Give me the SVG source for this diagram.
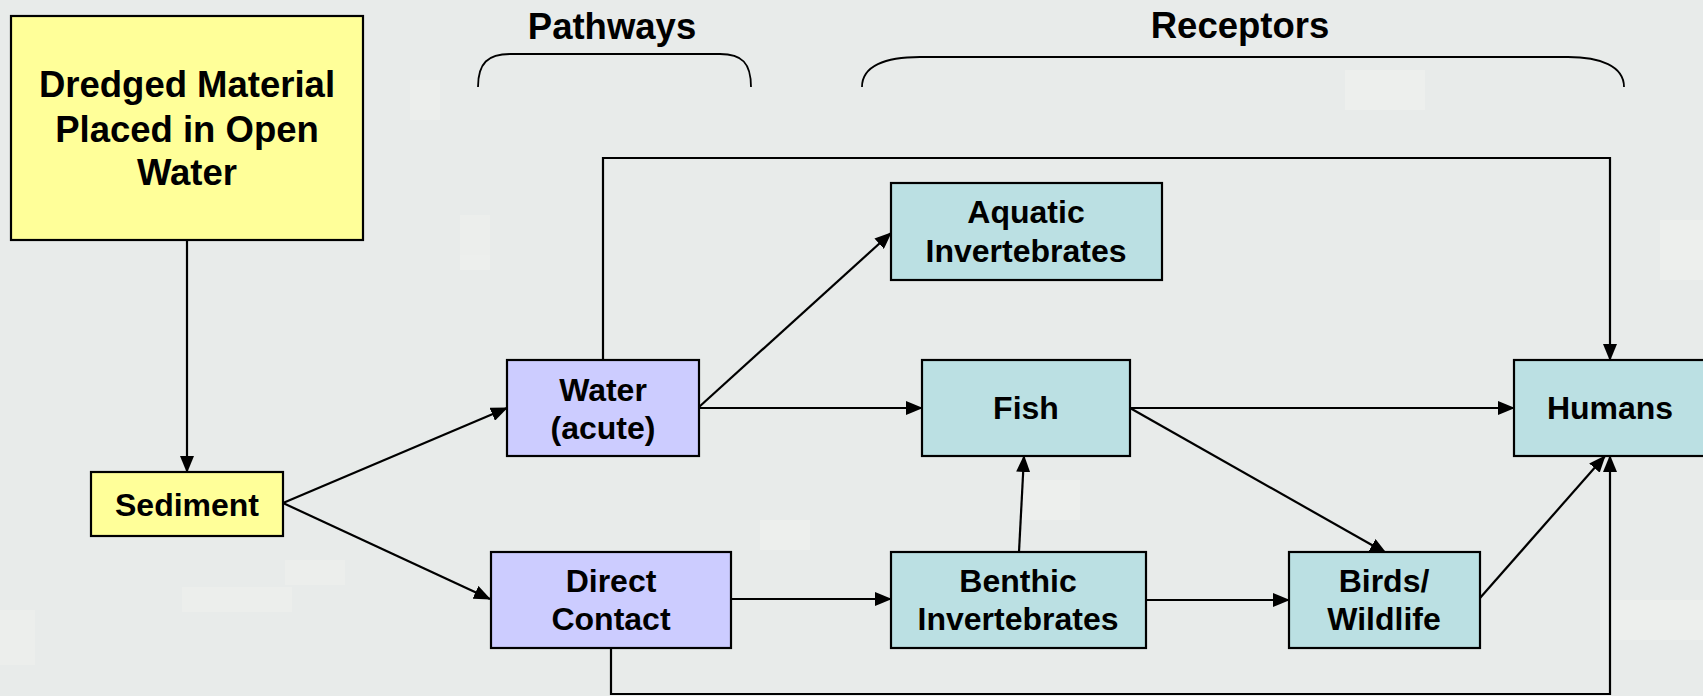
<svg xmlns="http://www.w3.org/2000/svg" width="1703" height="696" viewBox="0 0 1703 696">
<style>
.box{stroke:#000;stroke-width:2.2}
.y{fill:#ffff99}
.p{fill:#ccccff}
.t{fill:#bbe0e3}
text{font-family:"Liberation Sans",Arial,sans-serif;font-weight:bold;fill:#000;text-anchor:middle}
.big{font-size:36.5px}
.n{font-size:32px}
.c{fill:none;stroke:#000;stroke-width:2.2}
.br{fill:none;stroke:#000;stroke-width:1.8}
.bg2{fill:#f1f2ee}
</style>
<defs>
<marker id="ah" markerUnits="userSpaceOnUse" markerWidth="17" markerHeight="14" refX="16" refY="7" orient="auto">
<path d="M0,0 L17,7 L0,14 Z" fill="#000"/>
</marker>
</defs>
<rect width="1703" height="696" fill="#e8ebea"/>
<g id="background" opacity="0.55">
<rect class="bg2" x="410" y="80" width="30" height="40"/>
<rect class="bg2" x="460" y="215" width="30" height="55"/>
<rect class="bg2" x="182" y="587" width="110" height="25"/>
<rect class="bg2" x="285" y="560" width="60" height="25"/>
<rect class="bg2" x="0" y="610" width="35" height="55"/>
<rect class="bg2" x="1345" y="70" width="80" height="40"/>
<rect class="bg2" x="1660" y="220" width="43" height="60"/>
<rect class="bg2" x="1600" y="600" width="103" height="40"/>
<rect class="bg2" x="1020" y="480" width="60" height="40"/>
<rect class="bg2" x="760" y="520" width="50" height="30"/>
</g>
<g id="connectors">
<path class="c" d="M187,240 L187,472" marker-end="url(#ah)"/>
<path class="c" d="M283,503 L507,408" marker-end="url(#ah)"/>
<path class="c" d="M283,503 L490,599" marker-end="url(#ah)"/>
<path class="c" d="M699,407 L891,233" marker-end="url(#ah)"/>
<path class="c" d="M699,408 L922,408" marker-end="url(#ah)"/>
<path class="c" d="M603,360 L603,158 L1610,158 L1610,360" marker-end="url(#ah)"/>
<path class="c" d="M1130,408 L1514,408" marker-end="url(#ah)"/>
<path class="c" d="M1130,408 L1386,553" marker-end="url(#ah)"/>
<path class="c" d="M1019,552 L1024,456" marker-end="url(#ah)"/>
<path class="c" d="M731,599 L891,599" marker-end="url(#ah)"/>
<path class="c" d="M1146,600 L1289,600" marker-end="url(#ah)"/>
<path class="c" d="M1480,598 L1605,456" marker-end="url(#ah)"/>
<path class="c" d="M611,648 L611,694 L1610,694 L1610,456" marker-end="url(#ah)"/>
</g>
<g id="pathways-header">
<text class="big" x="612" y="39">Pathways</text>
<path class="br" d="M478,87 C478,63 488,54 510,54 L720,54 C742,54 751,63 751,87"/>
</g>
<g id="receptors-header">
<text class="big" x="1240" y="38">Receptors</text>
<path class="br" d="M862,87 C862,66 885,57 920,57 L1568,57 C1600,57 1624,66 1624,87"/>
</g>
<g id="dredged">
<rect class="box y" x="11" y="16" width="352" height="224"/>
<text class="big" x="187" y="97">Dredged Material</text>
<text class="big" x="187" y="142">Placed in Open</text>
<text class="big" x="187" y="185">Water</text>
</g>
<g id="sediment">
<rect class="box y" x="91" y="472" width="192" height="64"/>
<text class="n" x="187" y="516">Sediment</text>
</g>
<g id="water">
<rect class="box p" x="507" y="360" width="192" height="96"/>
<text class="n" x="603" y="401">Water</text>
<text class="n" x="603" y="439">(acute)</text>
</g>
<g id="direct-contact">
<rect class="box p" x="491" y="552" width="240" height="96"/>
<text class="n" x="611" y="592">Direct</text>
<text class="n" x="611" y="630">Contact</text>
</g>
<g id="aquatic-invertebrates">
<rect class="box t" x="891" y="183" width="271" height="97"/>
<text class="n" x="1026" y="223">Aquatic</text>
<text class="n" x="1026" y="262">Invertebrates</text>
</g>
<g id="fish">
<rect class="box t" x="922" y="360" width="208" height="96"/>
<text class="n" x="1026" y="419">Fish</text>
</g>
<g id="benthic-invertebrates">
<rect class="box t" x="891" y="552" width="255" height="96"/>
<text class="n" x="1018" y="592">Benthic</text>
<text class="n" x="1018" y="630">Invertebrates</text>
</g>
<g id="birds-wildlife">
<rect class="box t" x="1289" y="552" width="191" height="96"/>
<text class="n" x="1384" y="592">Birds/</text>
<text class="n" x="1384" y="630">Wildlife</text>
</g>
<g id="humans">
<rect class="box t" x="1514" y="360" width="200" height="96"/>
<text class="n" x="1610" y="419">Humans</text>
</g>
</svg>
